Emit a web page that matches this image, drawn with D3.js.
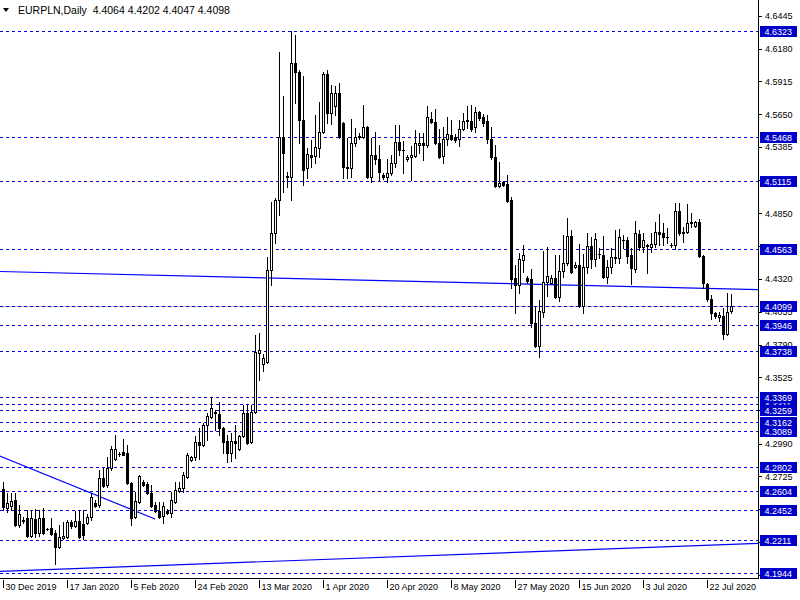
<!DOCTYPE html>
<html><head><meta charset="utf-8">
<script src="https://cdn.jsdelivr.net/npm/d3@7"></script>
<style>
body{margin:0;background:#fff}
svg{display:block}
text{font-family:"Liberation Sans",Arial,sans-serif}
</style>
</head><body>
<svg id="c" width="800" height="600"></svg>
<script>
const titleText = "EURPLN,Daily  4.4064 4.4202 4.4047 4.4098";

const open = [4.2622,4.2469,4.2486,4.2534,4.2332,4.2372,4.2388,4.2243,4.2380,4.2267,
4.2388,4.2299,4.2307,4.2267,4.2154,4.2227,4.2235,4.2356,4.2324,4.2364,
4.2340,4.2348,4.2396,4.2510,4.2494,4.2711,4.2655,4.2792,4.2865,4.2905,
4.2921,4.2913,4.2671,4.2396,4.2518,4.2679,4.2663,4.2590,4.2494,4.2445,
4.2404,4.2445,4.2429,4.2518,4.2606,4.2630,4.2719,4.2857,4.2881,4.3002,
4.2978,4.3140,4.3204,4.3245,4.3229,4.3115,4.3010,4.2913,4.3010,4.2946,
4.3051,4.3237,4.3002,4.3245,4.3721,4.3632,4.3649,4.4392,4.4691,4.4958,
4.5467,4.5151,4.5143,4.6064,4.5992,4.5604,4.5216,4.5321,4.5313,4.5378,
4.5507,4.5976,4.5660,4.5717,4.5822,4.5580,4.5224,4.5216,4.5418,4.5467,
4.5467,4.5547,4.5143,4.5321,4.5289,4.5160,4.5143,4.5176,4.5257,4.5426,
4.5361,4.5289,4.5305,4.5313,4.5402,4.5418,4.5402,4.5612,4.5588,4.5418,
4.5313,4.5450,4.5483,4.5467,4.5450,4.5531,4.5604,4.5596,4.5547,4.5668,
4.5628,4.5596,4.5450,4.5305,4.5071,4.5103,4.5087,4.4958,4.4327,4.4271,
4.4473,4.4327,4.4319,4.3964,4.3778,4.4053,4.4295,4.4287,4.4327,4.4174,
4.4384,4.4449,4.4667,4.4416,4.4432,4.4101,4.4416,4.4586,4.4481,4.4521,
4.4513,4.4335,4.4416,4.4497,4.4489,4.4634,4.4634,4.4513,4.4400,4.4683,
4.4578,4.4594,4.4578,4.4602,4.4699,4.4691,4.4659,4.4594,4.4594,4.4869,
4.4699,4.4699,4.4780,4.4748,4.4780,4.4505,4.4279,4.4158,4.4044,4.4012,
4.4020,4.3875,4.4064];

const high = [4.2679,4.2590,4.2590,4.2590,4.2494,4.2396,4.2453,4.2453,4.2461,4.2453,
4.2469,4.2307,4.2388,4.2291,4.2332,4.2356,4.2372,4.2372,4.2445,4.2453,
4.2453,4.2421,4.2590,4.2534,4.2776,4.2792,4.2881,4.2970,4.3059,4.2921,
4.3026,4.2978,4.2679,4.2598,4.2736,4.2695,4.2679,4.2655,4.2518,4.2518,
4.2518,4.2461,4.2598,4.2679,4.2679,4.2760,4.2913,4.2889,4.3051,4.3115,
4.3156,4.3237,4.3366,4.3261,4.3326,4.3123,4.3059,4.3075,4.3140,4.3059,
4.3301,4.3301,4.3301,4.3867,4.3883,4.3713,4.4497,4.4942,4.4974,4.6154,
4.5798,4.5184,4.6323,4.6291,4.6008,4.5960,4.5378,4.5442,4.5644,4.5749,
4.5992,4.6008,4.5887,4.5879,4.5903,4.5588,4.5459,4.5612,4.5539,4.5499,
4.5725,4.5555,4.5459,4.5507,4.5402,4.5176,4.5289,4.5321,4.5563,4.5563,
4.5434,4.5321,4.5394,4.5523,4.5499,4.5499,4.5717,4.5668,4.5693,4.5531,
4.5547,4.5628,4.5604,4.5491,4.5604,4.5660,4.5717,4.5725,4.5709,4.5677,
4.5652,4.5644,4.5547,4.5402,4.5265,4.5111,4.5160,4.4982,4.4432,4.4529,
4.4594,4.4343,4.4400,4.4093,4.4150,4.4546,4.4578,4.4352,4.4513,4.4513,
4.4675,4.4812,4.4715,4.4457,4.4602,4.4521,4.4691,4.4659,4.4691,4.4570,
4.4667,4.4473,4.4570,4.4715,4.4723,4.4675,4.4659,4.4570,4.4788,4.4715,
4.4691,4.4602,4.4691,4.4780,4.4845,4.4772,4.4731,4.4610,4.4934,4.4934,
4.4739,4.4925,4.4853,4.4788,4.4804,4.4513,4.4287,4.4190,4.4053,4.4053,
4.4085,4.4206,4.4202];

const low = [4.2453,4.2437,4.2453,4.2324,4.2316,4.2348,4.2235,4.2235,4.2235,4.2243,
4.2259,4.2291,4.2251,4.2017,4.2146,4.2219,4.2227,4.2307,4.2316,4.2227,
4.2219,4.2340,4.2372,4.2477,4.2477,4.2638,4.2638,4.2776,4.2857,4.2889,
4.2897,4.2663,4.2332,4.2388,4.2510,4.2646,4.2582,4.2477,4.2437,4.2388,
4.2348,4.2421,4.2396,4.2510,4.2598,4.2598,4.2711,4.2849,4.2857,4.2865,
4.2970,4.3018,4.3196,4.3099,4.3059,4.2913,4.2841,4.2849,4.2873,4.2938,
4.3043,4.2986,4.2994,4.3237,4.3503,4.3576,4.3641,4.4271,4.4610,4.4837,
4.5022,4.5062,4.4958,4.5741,4.5418,4.5079,4.5135,4.5224,4.5257,4.5305,
4.5499,4.5580,4.5572,4.5644,4.5459,4.5135,4.5135,4.5143,4.5394,4.5450,
4.5459,4.5135,4.5103,4.5248,4.5119,4.5127,4.5103,4.5160,4.5224,4.5321,
4.5176,4.5273,4.5119,4.5305,4.5337,4.5281,4.5386,4.5580,4.5410,4.5297,
4.5257,4.5402,4.5442,4.5426,4.5394,4.5523,4.5539,4.5515,4.5507,4.5604,
4.5556,4.5418,4.5289,4.5062,4.5062,4.5071,4.4942,4.4247,4.4044,4.4206,
4.4376,4.4287,4.3931,4.3770,4.3689,4.4012,4.4182,4.4283,4.4166,4.4141,
4.4335,4.4432,4.4368,4.4408,4.4093,4.4044,4.4368,4.4408,4.4424,4.4489,
4.4327,4.4287,4.4368,4.4449,4.4449,4.4570,4.4449,4.4279,4.4376,4.4554,
4.4537,4.4368,4.4537,4.4578,4.4594,4.4594,4.4610,4.4578,4.4562,4.4675,
4.4618,4.4691,4.4739,4.4739,4.4497,4.4247,4.4141,4.3996,4.4004,4.3980,
4.3834,4.3867,4.4047];

const close = [4.2477,4.2510,4.2526,4.2332,4.2421,4.2368,4.2243,4.2388,4.2267,4.2388,
4.2267,4.2297,4.2259,4.2154,4.2235,4.2243,4.2356,4.2324,4.2364,4.2235,
4.2251,4.2396,4.2558,4.2486,4.2711,4.2646,4.2792,4.2946,4.2946,4.2903,
4.2899,4.2671,4.2388,4.2526,4.2727,4.2655,4.2590,4.2486,4.2445,4.2396,
4.2486,4.2429,4.2534,4.2614,4.2630,4.2736,4.2897,4.2881,4.3002,4.2978,
4.3140,4.3213,4.3277,4.3237,4.3115,4.3002,4.2913,4.3010,4.2994,4.3051,
4.3237,4.2994,4.3245,4.3729,4.3746,4.3681,4.4392,4.4691,4.4958,4.5467,
4.5338,4.5143,4.6064,4.5992,4.5604,4.5200,4.5329,4.5305,4.5386,4.5507,
4.5976,4.5660,4.5822,4.5822,4.5467,4.5224,4.5216,4.5418,4.5467,4.5475,
4.5547,4.5143,4.5321,4.5289,4.5184,4.5143,4.5176,4.5257,4.5426,4.5361,
4.5359,4.5305,4.5321,4.5418,4.5418,4.5402,4.5628,4.5588,4.5418,4.5305,
4.5450,4.5491,4.5450,4.5442,4.5531,4.5596,4.5592,4.5531,4.5668,4.5620,
4.5580,4.5450,4.5305,4.5071,4.5095,4.5079,4.4950,4.4319,4.4271,4.4481,
4.4513,4.4303,4.3964,4.3778,4.4061,4.4295,4.4343,4.4327,4.4174,4.4384,
4.4449,4.4667,4.4376,4.4432,4.4101,4.4416,4.4586,4.4481,4.4642,4.4519,
4.4335,4.4416,4.4497,4.4489,4.4659,4.4632,4.4505,4.4408,4.4691,4.4578,
4.4634,4.4586,4.4602,4.4699,4.4683,4.4659,4.4657,4.4596,4.4869,4.4691,
4.4687,4.4772,4.4768,4.4780,4.4505,4.4287,4.4158,4.4044,4.4020,4.4028,
4.3875,4.4053,4.4098];

// horizontal level lines (draw order matters for overlapping labels)
const levels = [4.3311,4.6323,4.5468,4.5115,4.4563,4.4099,4.3946,4.3738,4.3369,4.3259,4.3162,4.3089,4.2802,4.2604,4.2452,4.2211,4.1944];
const bidLevel = 4.4099;

const priceTicks = [4.6445,4.6180,4.5915,4.5650,4.5385,4.5120,4.4850,4.4585,4.4320,4.4055,4.3790,4.3525,4.3260,4.2990,4.2725,4.2460,4.2195,4.1930];

const dateTickBars = [0,16,32,48,64,80,96,112,128,144,160,176];
const dateTickLabels = ["30 Dec 2019","17 Jan 2020","5 Feb 2020","24 Feb 2020","13 Mar 2020","1 Apr 2020","20 Apr 2020","8 May 2020","27 May 2020","15 Jun 2020","3 Jul 2020","22 Jul 2020"];

// trend lines: anchor bar index / price pairs
const trendStartBar  = [-1, -1, -1];
const trendStartPrice = [4.4380, 4.2892, 4.1957];
const trendEndBar    = [189, 38, 189];
const trendEndPrice  = [4.4233, 4.2380, 4.2183];

const W = 800, H = 600;
const plotRight = 758, plotBottom = 578;

const svg = d3.select("#c");
const x = d3.scaleLinear().domain([0, 182]).range([3, 731]);
const y = d3.scaleLinear().domain([4.1944, 4.6323]).range([573, 31]);

svg.append("rect").attr("width", W).attr("height", H).attr("fill", "#fff");
svg.append("defs").append("clipPath").attr("id", "clip")
  .append("rect").attr("x", 0).attr("y", 0).attr("width", plotRight).attr("height", plotBottom);

const plot = svg.append("g").attr("clip-path", "url(#clip)");
const py = v => Math.round(y(v));
const pxc = i => Math.round(x(i)) + 0.5;

// level lines
const lvl = plot.append("g").attr("shape-rendering", "crispEdges");
lvl.append("line").attr("x1", 0).attr("x2", plotRight)
  .attr("y1", py(bidLevel) + 0.5).attr("y2", py(bidLevel) + 0.5)
  .attr("stroke", "#b8b8b8").attr("stroke-width", 1);
lvl.selectAll("line.lv").data(levels).join("line").attr("class", "lv")
  .attr("x1", 0).attr("x2", plotRight)
  .attr("y1", d => py(d) + 0.5).attr("y2", d => py(d) + 0.5)
  .attr("stroke", "#0000e0").attr("stroke-width", 1).attr("stroke-dasharray", "3,3");

// trend lines
const tl = d3.range(trendStartBar.length);
plot.append("g").selectAll("line").data(tl).join("line")
  .attr("x1", k => x(trendStartBar[k])).attr("y1", k => y(trendStartPrice[k]))
  .attr("x2", k => x(trendEndBar[k])).attr("y2", k => y(trendEndPrice[k]))
  .attr("stroke", "#0000ff").attr("stroke-width", 1.2);

// candles
const bars = d3.range(open.length).map(i => ({i, o: open[i], h: high[i], l: low[i], c: close[i]}));
const cg = plot.append("g").attr("shape-rendering", "crispEdges");
cg.selectAll("line.w").data(bars).join("line").attr("class", "w")
  .attr("x1", d => pxc(d.i)).attr("x2", d => pxc(d.i))
  .attr("y1", d => py(d.h)).attr("y2", d => py(d.l) + 1)
  .attr("stroke", "#000").attr("stroke-width", 1);
bars.forEach(d => {
  const cx = pxc(d.i);
  const t = Math.min(py(d.o), py(d.c)), b = Math.max(py(d.o), py(d.c));
  if (b - t < 1) {
    cg.append("rect").attr("x", cx - 1.5).attr("y", t).attr("width", 3).attr("height", 1).attr("fill", "#000");
  } else if (d.c < d.o) {
    cg.append("rect").attr("x", cx - 1.5).attr("y", t).attr("width", 3).attr("height", b - t + 1).attr("fill", "#000");
  } else {
    cg.append("rect").attr("x", cx - 1).attr("y", t + 0.5).attr("width", 2).attr("height", b - t)
      .attr("fill", "#fff").attr("stroke", "#000").attr("stroke-width", 1);
  }
});

// frame
const fr = svg.append("g").attr("shape-rendering", "crispEdges");
fr.append("line").attr("x1", plotRight + 0.5).attr("x2", plotRight + 0.5).attr("y1", 0).attr("y2", plotBottom + 1).attr("stroke", "#000");
fr.append("line").attr("x1", 0).attr("x2", plotRight + 1).attr("y1", plotBottom + 0.5).attr("y2", plotBottom + 0.5).attr("stroke", "#000");

// right price axis
const ya = svg.append("g").attr("transform", `translate(${plotRight + 1},0)`)
  .call(d3.axisRight(y).tickValues(priceTicks).tickFormat(d3.format(".4f")).tickSize(3).tickPadding(3).offset(0.5));
ya.select(".domain").remove();
ya.selectAll("line").attr("shape-rendering", "crispEdges").attr("stroke", "#000");
ya.selectAll("text").attr("font-size", 9).attr("fill", "#000").attr("font-family", "Liberation Sans, Arial, sans-serif");

// level labels
const lb = svg.append("g");
levels.forEach(v => {
  const yy = py(v);
  lb.append("rect").attr("x", 760).attr("y", yy - 5).attr("width", 37).attr("height", 11)
    .attr("fill", "#0000c8").attr("shape-rendering", "crispEdges");
  lb.append("text").attr("x", 764.5).attr("y", yy + 4).attr("fill", "#fff").attr("font-size", 9)
    .text(d3.format(".4f")(v));
});

// bottom time axis
const xa = svg.append("g").attr("transform", `translate(0,${plotBottom + 2})`)
  .call(d3.axisBottom(x).tickValues(dateTickBars).tickFormat((d, k) => dateTickLabels[k]).tickSize(8).tickPadding(0));
xa.select(".domain").remove();
xa.selectAll("line").attr("shape-rendering", "crispEdges").attr("stroke", "#000");
xa.selectAll("text").attr("text-anchor", "start").attr("x", 2).attr("y", 4).attr("dy", "0.71em")
  .attr("font-size", 9).attr("fill", "#000").attr("font-family", "Liberation Sans, Arial, sans-serif");

// title
svg.append("path").attr("d", "M3,8 L9,8 L6,12 Z").attr("fill", "#000");
svg.append("text").attr("x", 18).attr("y", 14).attr("font-size", 10.5).attr("fill", "#000")
  .attr("xml:space", "preserve").style("white-space", "pre").text(titleText);
</script>
</body></html>
